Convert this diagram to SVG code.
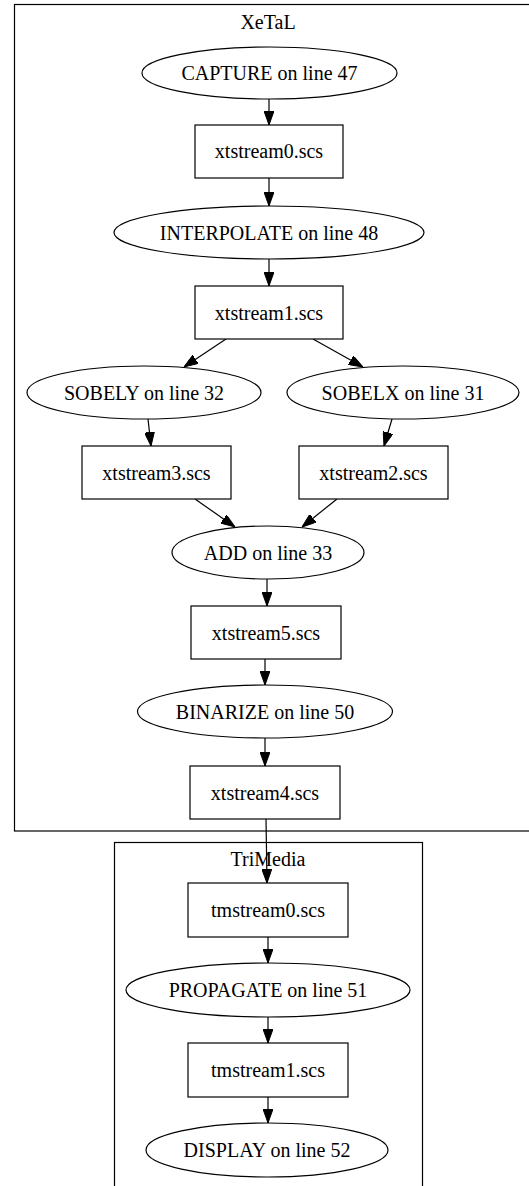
<svg xmlns="http://www.w3.org/2000/svg" width="529" height="1186" viewBox="0 0 529 1186">
<style>
.cl{fill:none;stroke:#000;stroke-width:1.2}
.nd{fill:#fff;stroke:#000;stroke-width:1.2}
.t{font-family:"Liberation Serif","Times New Roman",serif;font-size:20px;fill:#000;text-anchor:middle}
.e{fill:none;stroke:#000;stroke-width:1.2;marker-end:url(#ah)}
</style>
<defs>
<marker id="ah" viewBox="0 0 14 10" refX="14" refY="5" markerWidth="14" markerHeight="10" markerUnits="userSpaceOnUse" orient="auto">
<path d="M0,0 L14,5 L0,10 z" fill="#000" stroke="#000" stroke-width="1"/>
</marker>
</defs>
<g id="cluster_xetal">
<rect class="cl" x="14.5" y="4.5" width="530" height="826.5"/>
<text class="t" x="268" y="29">XeTaL</text>
</g>
<g id="cluster_trimedia">
<rect class="cl" x="114.5" y="842.5" width="308" height="400"/>
<text class="t" x="268" y="866">TriMedia</text>
</g>
<g id="edges">
<line class="e" x1="269" y1="99" x2="269" y2="125"/>
<line class="e" x1="269" y1="178" x2="269" y2="206"/>
<line class="e" x1="269" y1="259" x2="269" y2="286"/>
<line class="e" x1="226" y1="339" x2="184" y2="367"/>
<line class="e" x1="313" y1="339" x2="363" y2="367"/>
<line class="e" x1="148" y1="419" x2="151" y2="446"/>
<line class="e" x1="392" y1="419" x2="384" y2="446"/>
<line class="e" x1="195" y1="499" x2="235" y2="527"/>
<line class="e" x1="337" y1="499" x2="302" y2="527"/>
<line class="e" x1="267" y1="579" x2="267" y2="606"/>
<line class="e" x1="265" y1="659" x2="265" y2="685"/>
<line class="e" x1="265" y1="738" x2="265" y2="766"/>
<line class="e" x1="266" y1="819" x2="267" y2="883"/>
<line class="e" x1="268" y1="937" x2="268" y2="963"/>
<line class="e" x1="268" y1="1017" x2="268" y2="1043"/>
<line class="e" x1="268" y1="1097" x2="268" y2="1123"/>
</g>
<g id="capture">
<ellipse class="nd" cx="269.5" cy="73" rx="127.5" ry="26"/>
<text class="t" x="269.5" y="80">CAPTURE on line 47</text>
</g>
<g id="xtstream0">
<rect class="nd" x="195" y="125" width="148" height="53"/>
<text class="t" x="269" y="158">xtstream0.scs</text>
</g>
<g id="interpolate">
<ellipse class="nd" cx="269" cy="232.5" rx="155" ry="26.5"/>
<text class="t" x="269" y="239.5">INTERPOLATE on line 48</text>
</g>
<g id="xtstream1">
<rect class="nd" x="195" y="286" width="148" height="53"/>
<text class="t" x="269" y="319.5">xtstream1.scs</text>
</g>
<g id="sobely">
<ellipse class="nd" cx="144" cy="392.5" rx="117" ry="26.5"/>
<text class="t" x="144" y="399.5">SOBELY on line 32</text>
</g>
<g id="sobelx">
<ellipse class="nd" cx="403" cy="392.5" rx="116" ry="26.5"/>
<text class="t" x="403" y="399.5">SOBELX on line 31</text>
</g>
<g id="xtstream3">
<rect class="nd" x="82" y="446" width="149" height="53"/>
<text class="t" x="156.5" y="479.5">xtstream3.scs</text>
</g>
<g id="xtstream2">
<rect class="nd" x="299" y="446" width="149" height="53"/>
<text class="t" x="373.5" y="479.5">xtstream2.scs</text>
</g>
<g id="add">
<ellipse class="nd" cx="268" cy="552.5" rx="96" ry="26.5"/>
<text class="t" x="268" y="559.5">ADD on line 33</text>
</g>
<g id="xtstream5">
<rect class="nd" x="191" y="606" width="150" height="53"/>
<text class="t" x="266" y="639.5">xtstream5.scs</text>
</g>
<g id="binarize">
<ellipse class="nd" cx="265" cy="711.5" rx="127.5" ry="26.5"/>
<text class="t" x="265" y="718.5">BINARIZE on line 50</text>
</g>
<g id="xtstream4">
<rect class="nd" x="190" y="766" width="150" height="53"/>
<text class="t" x="265" y="799.5">xtstream4.scs</text>
</g>
<g id="tmstream0">
<rect class="nd" x="188" y="883" width="160" height="54"/>
<text class="t" x="268" y="917">tmstream0.scs</text>
</g>
<g id="propagate">
<ellipse class="nd" cx="268" cy="990" rx="142" ry="27"/>
<text class="t" x="268" y="997">PROPAGATE on line 51</text>
</g>
<g id="tmstream1">
<rect class="nd" x="188" y="1043" width="160" height="54"/>
<text class="t" x="268" y="1077">tmstream1.scs</text>
</g>
<g id="display">
<ellipse class="nd" cx="267" cy="1150" rx="121" ry="27"/>
<text class="t" x="267" y="1157">DISPLAY on line 52</text>
</g>
</svg>
